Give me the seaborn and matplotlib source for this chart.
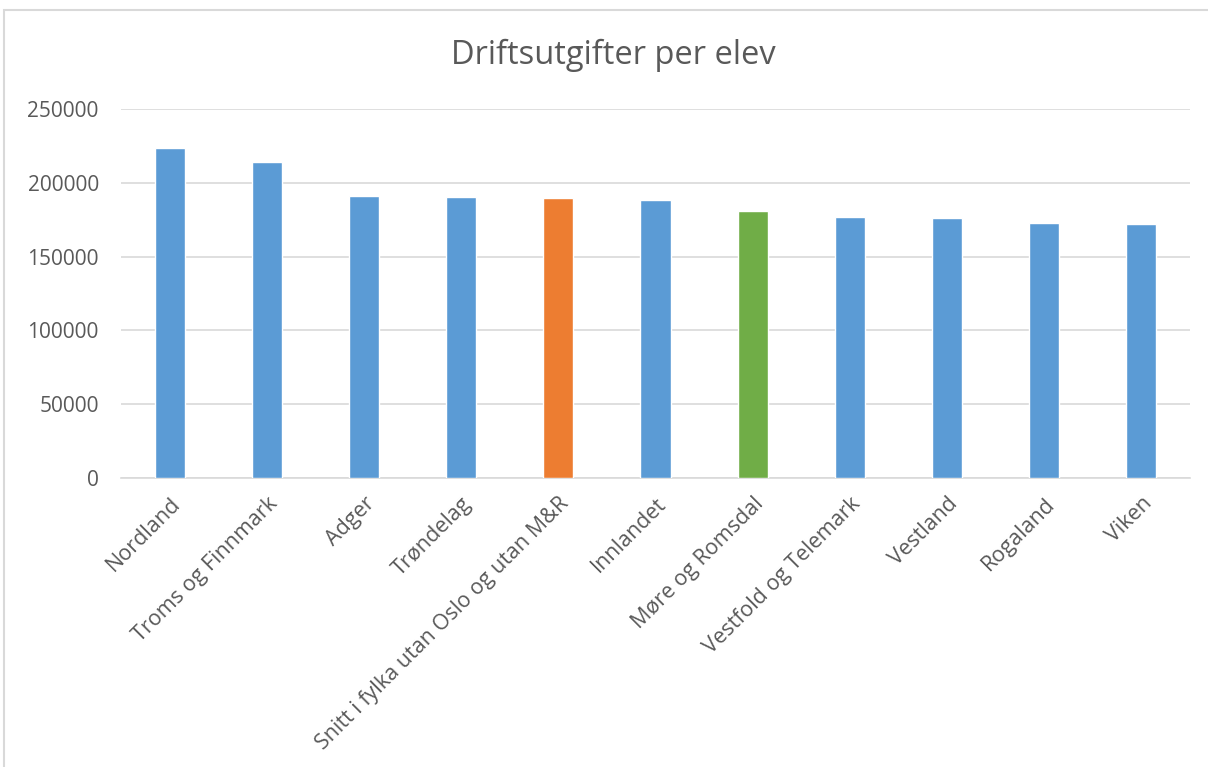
import matplotlib
matplotlib.use("Agg")
import matplotlib.pyplot as plt
import seaborn as sns
import pandas as pd
from matplotlib.patches import Rectangle

categories = ["Nordland", "Troms og Finnmark", "Adger", "Trøndelag",
              "Snitt i fylka utan Oslo og utan M&R", "Innlandet",
              "Møre og Romsdal", "Vestfold og Telemark", "Vestland",
              "Rogaland", "Viken"]
values = [223500, 213900, 190800, 190100, 189600, 188100,
          180900, 176600, 176400, 173100, 172000]
y_ticks = [0, 50000, 100000, 150000, 200000, 250000]

BLUE, ORANGE, GREEN = "#5B9BD5", "#ED7D31", "#70AD47"
bar_colors = {c: BLUE for c in categories}
bar_colors["Snitt i fylka utan Oslo og utan M&R"] = ORANGE
bar_colors["Møre og Romsdal"] = GREEN

TEXT = "#595959"
GRID = "#D9D9D9"

sns.set_theme(style="white")
plt.rcParams["font.family"] = ["Open Sans", "DejaVu Sans"]

df = pd.DataFrame({"region": categories, "value": values})

fig = plt.figure(figsize=(12.08, 7.67), dpi=100)
ax = fig.add_axes([121 / 1208, 1 - 478 / 767, (1190 - 121) / 1208, (478 - 109) / 767])

sns.barplot(data=df, x="region", y="value", hue="region", palette=bar_colors,
            order=categories, hue_order=categories, legend=False,
            width=0.31, ax=ax, zorder=3, saturation=1)

ax.set_xlim(-0.5, len(categories) - 0.5)
ax.set_ylim(0, 250000)
ax.set_yticks(y_ticks)
ax.set_yticklabels([str(v) for v in y_ticks], fontsize=15, color=TEXT)
ax.yaxis.grid(True, color=GRID, linewidth=1.2, zorder=0)
ax.set_axisbelow(True)
ax.tick_params(axis="y", length=0, pad=16)
ax.tick_params(axis="x", length=0, pad=11)
ax.set_xlabel("")
ax.set_ylabel("")
ax.set_xticks(range(len(categories)))
ax.set_xticklabels(categories, rotation=45, ha="right", rotation_mode="anchor",
                   fontsize=15.5, color=TEXT)
for s in ["top", "right", "left"]:
    ax.spines[s].set_visible(False)
ax.spines["bottom"].set_color(GRID)
ax.spines["bottom"].set_linewidth(1.2)

fig.text(613 / 1208, 1 - 55 / 767, "Driftsutgifter per elev", ha="center",
         va="center", fontsize=23.5, color=TEXT)

# chart area border
fig.patches.append(Rectangle((4 / 1208, -0.05), 1.1, 1 - 9.5 / 767 + 0.05,
                             transform=fig.transFigure, fill=False,
                             edgecolor=GRID, linewidth=1.5))

fig.savefig("out.png", dpi=100)
